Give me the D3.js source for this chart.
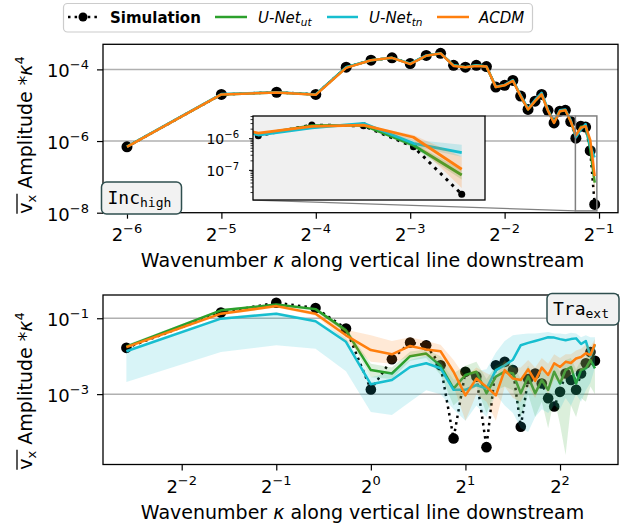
<!DOCTYPE html>
<html><head><meta charset="utf-8">
<script src="https://cdn.jsdelivr.net/npm/d3@7"></script>
<style>
body{margin:0;background:#fff}
svg{display:block}
text{font-family:"DejaVu Sans",sans-serif;fill:#000}
text.mono{font-family:"DejaVu Sans Mono",monospace}
</style>
</head><body>
<svg id="chart" width="626" height="527"></svg>
<script>
// ---------------- DATA ----------------
// Top panel (Inc_high): wavenumber kappa = mode / 64
const topK = [0.015625,0.03125,0.046875,0.0625,0.078125,0.09375,0.109375,0.125,0.140625,0.15625,0.171875,0.1875,0.203125,0.21875,0.234375,0.25,0.265625,0.28125,0.296875,0.3125,0.328125,0.34375,0.359375,0.375,0.390625,0.40625,0.421875,0.4375,0.453125,0.46875,0.484375];
const topSim  = [6.9e-7,2.0e-5,2.3e-5,2.0e-5,1.15e-4,1.8e-4,2.1e-4,1.45e-4,2.45e-4,2.8e-4,1.3e-4,1.15e-4,1.3e-4,1.2e-4,3.2e-5,3.6e-5,4.9e-5,1.8e-5,7.6e-6,1.3e-5,2.0e-5,7.2e-6,3.2e-6,6.8e-6,7.2e-6,3.5e-6,1.2e-6,2.6e-6,2.45e-6,5.4e-7,1.7e-8];
const topUt   = [7.0e-7,2.0e-5,2.25e-5,2.0e-5,1.15e-4,1.8e-4,2.1e-4,1.45e-4,2.4e-4,2.8e-4,1.3e-4,1.15e-4,1.3e-4,1.2e-4,3.2e-5,3.6e-5,4.9e-5,1.8e-5,7.6e-6,1.3e-5,2.0e-5,7.2e-6,3.3e-6,6.8e-6,7.2e-6,3.6e-6,1.32e-6,2.5e-6,2.57e-6,6.0e-7,6.9e-8];
const topTn   = [7.0e-7,2.05e-5,2.3e-5,2.0e-5,1.15e-4,1.8e-4,2.1e-4,1.45e-4,2.45e-4,2.8e-4,1.3e-4,1.15e-4,1.3e-4,1.2e-4,3.3e-5,3.7e-5,5.0e-5,1.9e-5,8.0e-6,1.4e-5,2.2e-5,7.5e-6,3.4e-6,7.2e-6,7.6e-6,3.8e-6,1.26e-6,2.1e-6,2.95e-6,6.9e-7,3.5e-7];
const topAcdm = [6.9e-7,2.0e-5,2.25e-5,1.95e-5,1.1e-4,1.8e-4,2.1e-4,1.4e-4,2.4e-4,2.8e-4,1.25e-4,1.15e-4,1.25e-4,1.2e-4,3.2e-5,3.6e-5,4.8e-5,1.8e-5,7.6e-6,1.3e-5,2.0e-5,7.0e-6,3.2e-6,6.8e-6,7.2e-6,3.5e-6,1.45e-6,2.35e-6,2.6e-6,1.07e-6,1.05e-7];
// uncertainty bands in the top panel (only visible at the highest wavenumbers)
const topBandK   = [0.421875,0.4375,0.453125,0.46875,0.484375];
const topUtLo    = [1.25e-6,2.4e-6,2.45e-6,5.0e-7,5.0e-8];
const topUtHi    = [1.4e-6,2.6e-6,2.7e-6,7.0e-7,1.0e-7];
const topTnLo    = [1.2e-6,2.0e-6,2.8e-6,5.6e-7,2.6e-7];
const topTnHi    = [1.32e-6,2.2e-6,3.1e-6,8.9e-7,6.2e-7];
const topAcdmLo  = [1.38e-6,2.25e-6,2.5e-6,8.0e-7,2.7e-8];
const topAcdmHi  = [1.52e-6,2.45e-6,2.7e-6,1.26e-6,2.6e-7];

// Bottom panel (Tra_ext): wavenumber kappa = mode / 6
const botK = [0.1667,0.3333,0.5,0.6667,0.8333,1,1.1667,1.3333,1.5,1.6667,1.8333,2,2.1667,2.3333,2.5,2.6667,2.8333,3,3.1667,3.3333,3.5,3.6667,3.8333,4,4.1667,4.3333,4.5,4.6667,4.8333,5,5.1667];
const botSim  = [0.0166,0.141,0.257,0.186,0.0537,1.32e-3,8.3e-3,0.0229,0.0195,5.75e-3,6.8e-5,3.9e-3,2.9e-3,4.0e-5,5.75e-3,7.1e-3,4.3e-3,1.38e-4,2.5e-3,3.5e-3,1.9e-3,7.8e-4,4.7e-4,1.15e-3,3.5e-3,2.35e-3,1.3e-3,3.5e-3,6.5e-3,0.0129,7.6e-3];
const botUt   = [0.0178,0.162,0.229,0.174,0.0479,4.3e-3,3.5e-3,0.01,0.0117,5.6e-3,1.4e-3,3.2e-3,3.9e-3,1.05e-3,2.9e-3,3.9e-3,3.5e-3,1.05e-3,2.9e-3,1.05e-3,2.35e-3,1.3e-3,3.9e-3,1.9e-3,4.3e-3,5.2e-3,1.9e-3,4.3e-3,4.8e-3,7.9e-3,4.8e-3];
const botTn   = [0.0135,0.0977,0.132,0.0832,0.024,1.82e-3,2.35e-3,5.2e-3,6.5e-3,4.8e-3,1.3e-3,1.3e-3,1.74e-3,1.4e-3,4.3e-3,5.75e-3,8.1e-3,0.0195,0.0224,0.0251,0.0282,0.0316,0.0309,0.0282,0.0263,0.0282,0.0295,0.0209,0.0251,0.01,0.02];
const botAcdm = [0.0174,0.132,0.209,0.132,0.0355,0.0145,0.0112,0.0186,0.0151,0.0135,3.9e-3,9.3e-4,2.57e-3,1.55e-3,9.3e-4,4.3e-3,2.57e-3,2.35e-3,4.5e-3,2.24e-3,5.0e-3,3.2e-3,6.5e-3,5.2e-3,7.1e-3,6.6e-3,8.7e-3,9.5e-3,0.012,0.0107,0.0209];
const botUtLo   = [0.0158,0.148,0.209,0.158,0.0398,2.8e-3,2.5e-3,7.6e-3,8.9e-3,3.2e-3,5.0e-4,1.0e-3,1.58e-3,3.2e-4,1.26e-3,1.58e-3,1.26e-3,2.5e-4,1.0e-3,2.5e-4,6.3e-4,1.26e-4,7.9e-4,1.58e-4,2.5e-5,5.0e-4,2.5e-4,7.9e-4,6.3e-4,1.58e-3,1.0e-3];
const botUtHi   = [0.02,0.174,0.245,0.191,0.0562,6.3e-3,5.0e-3,0.0132,0.0151,0.01,3.55e-3,5.6e-3,7.1e-3,2.5e-3,5.6e-3,7.1e-3,6.3e-3,2.5e-3,5.6e-3,2.5e-3,5.0e-3,2.8e-3,7.1e-3,4.0e-3,7.9e-3,8.9e-3,4.5e-3,7.9e-3,8.9e-3,0.0158,0.0126];
const botTnLo   = [2.1e-3,0.0129,0.0195,0.0158,4.0e-3,3.4e-4,2.8e-4,6.3e-4,1.26e-3,1.0e-3,4.0e-4,2.0e-4,5.0e-4,2.5e-4,1.0e-3,5.0e-4,3.2e-4,1.26e-4,1.0e-4,2.5e-4,4.0e-4,3.2e-4,5.0e-4,4.0e-4,7.9e-4,5.0e-4,1.0e-3,6.3e-4,1.26e-3,2.0e-3,5.0e-3];
const botTnHi   = [0.0151,0.107,0.145,0.0933,0.0302,2.8e-3,3.8e-3,7.9e-3,0.0105,7.6e-3,2.4e-3,2.8e-3,4.0e-3,4.5e-3,0.0126,0.0251,0.0355,0.038,0.0398,0.0398,0.0417,0.0437,0.0398,0.0398,0.038,0.0417,0.0398,0.0316,0.0355,0.0316,0.0316];
const botAcdmLo = [0.0158,0.12,0.191,0.117,0.0251,7.1e-3,6.3e-3,0.01,0.01,6.3e-3,1.58e-3,2.0e-4,1.0e-3,6.3e-4,2.0e-4,1.58e-3,7.9e-4,6.3e-4,1.58e-3,7.9e-4,2.0e-3,1.0e-3,2.5e-3,2.0e-3,2.5e-3,3.2e-3,4.0e-3,4.0e-3,5.0e-3,5.0e-3,0.0126];
const botAcdmHi = [0.0191,0.145,0.229,0.148,0.0501,0.0355,0.0251,0.0316,0.0251,0.02,7.9e-3,2.8e-3,5.0e-3,3.55e-3,2.8e-3,7.9e-3,5.0e-3,5.0e-3,7.9e-3,5.0e-3,8.9e-3,6.3e-3,0.0112,8.9e-3,0.0112,0.0112,0.0141,0.0158,0.02,0.0178,0.0282];

// ticks and labels
const topXTickExp = [-6,-5,-4,-3,-2,-1];
const topYTickExp = [-8,-6,-4];
const insetYTickExp = [-7,-6];
const botXTickExp = [-2,-1,0,1,2];
const botYTickExp = [-3,-1];
const legendNames = ["Simulation","U-Net","U-Net","ACDM"];
const legendSubs  = ["","ut","tn",""];
const topTag = ["Inc","high"];
const botTag = ["Tra","ext"];

// ---------------- STYLE ----------------
const COL = {ut:"#2ca02c", tn:"#17becf", acdm:"#ff7f0e"};
const svg = d3.select("#chart");
const MINUS = "\u2212";

function zip(k, v){ return k.map((kk,i)=>({k:kk, v:v[i]})); }
function zipBand(k, lo, hi){ return k.map((kk,i)=>({k:kk, lo:lo[i], hi:hi[i]})); }

function supText(sel, base, exp, baseSize, supSize, supDy){
  sel.append("tspan").attr("font-size", baseSize).text(base);
  sel.append("tspan").attr("font-size", supSize).attr("dy", -supDy).text(String(exp).replace("-", MINUS));
}

function drawPanel(p){
  const {x, y, box, id} = p;
  svg.append("clipPath").attr("id", id+"clip").append("rect")
    .attr("x", box.x0).attr("y", box.y0).attr("width", box.x1-box.x0).attr("height", box.y1-box.y0);
  const g = svg.append("g");
  p.gridExp.forEach(e => {
    g.append("line").attr("x1", box.x0).attr("x2", box.x1)
      .attr("y1", y(Math.pow(10,e))).attr("y2", y(Math.pow(10,e)))
      .attr("stroke", "#b0b0b0").attr("stroke-width", 1.5);
  });
  const plot = g.append("g").attr("clip-path", `url(#${id}clip)`);
  drawSeries(plot, x, y, p, p.simR, p.simW);
  p.extra && p.extra(g);
  g.append("rect").attr("x", box.x0).attr("y", box.y0).attr("width", box.x1-box.x0).attr("height", box.y1-box.y0)
    .attr("fill","none").attr("stroke","#000").attr("stroke-width",1.3);
  const xa = g.append("g").attr("transform", `translate(0,${box.y1})`)
    .call(d3.axisBottom(x).tickValues(p.xTickExp.map(e=>Math.pow(2,e))).tickSize(6).tickSizeOuter(0).tickFormat(()=>""));
  xa.select(".domain").remove();
  xa.selectAll(".tick line").attr("stroke","#000").attr("stroke-width",1.2);
  p.xTickExp.forEach(e => {
    const t = g.append("text").attr("x", x(Math.pow(2,e))).attr("y", box.y1+28.5).attr("text-anchor","middle");
    supText(t, "2", e, 18, 13, 8);
  });
  const ya = g.append("g").attr("transform", `translate(${box.x0},0)`)
    .call(d3.axisLeft(y).tickValues(p.yTickExp.map(e=>Math.pow(10,e))).tickSize(6).tickSizeOuter(0).tickFormat(()=>""));
  ya.select(".domain").remove();
  ya.selectAll(".tick line").attr("stroke","#000").attr("stroke-width",1.2);
  p.yTickExp.forEach(e => {
    const t = g.append("text").attr("x", box.x0-14).attr("y", y(Math.pow(10,e))+8).attr("text-anchor","end");
    supText(t, "10", e, 18, 13, 8);
  });
  const xl = g.append("text").attr("x", (box.x0+box.x1)/2 + 2).attr("y", box.y1+54).attr("text-anchor","middle").attr("font-size",19);
  xl.append("tspan").text("Wavenumber ");
  xl.append("tspan").attr("font-style","italic").text("κ");
  xl.append("tspan").text(" along vertical line downstream");
  const yg = g.append("g").attr("transform", `translate(32,${p.yLabelCenter}) rotate(-90)`);
  const yt = yg.append("text").attr("x",0).attr("y",0).attr("text-anchor","middle").attr("font-size",19);
  yt.append("tspan").text("v");
  yt.append("tspan").attr("font-size",13).attr("dy",4).text("x");
  yt.append("tspan").attr("dy",-4).text(" Amplitude *");
  yt.append("tspan").attr("font-style","italic").text("κ");
  yt.append("tspan").attr("font-size",13).attr("dy",-8).text("4");
  const n = yt.node();
  const xs = n.getStartPositionOfChar(0).x, xe = n.getEndPositionOfChar(1).x;
  yg.append("line").attr("x1", xs).attr("x2", xe+1).attr("y1",-15).attr("y2",-15).attr("stroke","#000").attr("stroke-width",1.3);
  const tb = p.tag;
  g.append("rect").attr("x", tb.x).attr("y", tb.y).attr("width", tb.w).attr("height", tb.h).attr("rx",5)
    .attr("fill","#f2f2f2").attr("stroke","#2f4f4f").attr("stroke-width",1.5);
  const tt = g.append("text").attr("class","mono").attr("x", tb.x+6).attr("y", tb.y+tb.h-10);
  tt.append("tspan").attr("font-size",18).text(tb.text[0]);
  tt.append("tspan").attr("font-size",13).attr("dy",3).text(tb.text[1]);
}

function drawSeries(plot, x, y, p, simR, simW){
  const line = d3.line().x(d=>x(d.k)).y(d=>y(d.v));
  const area = d3.area().x(d=>x(d.k)).y0(d=>y(d.lo)).y1(d=>y(d.hi));
  plot.append("path").datum(zip(p.k, p.sim)).attr("d", line).attr("fill","none")
    .attr("stroke","#000").attr("stroke-width",simW).attr("stroke-dasharray", `${simW},${simW*1.65}`);
  plot.selectAll(null).data(zip(p.k, p.sim)).enter().append("circle")
    .attr("cx", d=>x(d.k)).attr("cy", d=>y(d.v)).attr("r", simR).attr("fill","#000");
  p.models.forEach(m => {
    plot.append("path").datum(zip(p.k, m.v)).attr("d", line).attr("fill","none")
      .attr("stroke", m.c).attr("stroke-width", p.lineW).attr("stroke-linejoin","round");
    plot.append("path").datum(zipBand(m.bk, m.lo, m.hi)).attr("d", area)
      .attr("fill", m.c).attr("fill-opacity", m.a).attr("stroke","none");
  });
}

// ---------------- TOP PANEL ----------------
const topBox = {x0:103, x1:618, y0:44.3, y1:212.7};
const topX = d3.scaleLog().base(2).domain([Math.pow(2,-6.254), Math.pow(2,-0.799)]).range([topBox.x0, topBox.x1]);
const topY = d3.scaleLog().domain([1e-8, Math.pow(10,-3.30)]).range([topBox.y1, topBox.y0]);
const topModels = [
  {v:topUt, c:COL.ut, bk:topBandK, lo:topUtLo, hi:topUtHi, a:0.2},
  {v:topTn, c:COL.tn, bk:topBandK, lo:topTnLo, hi:topTnHi, a:0.2},
  {v:topAcdm, c:COL.acdm, bk:topBandK, lo:topAcdmLo, hi:topAcdmHi, a:0.2}
];
const inBox = {x0:253, x1:485, y0:116, y1:200};
const inX = d3.scaleLog().base(2).domain([Math.pow(2,-1.2503), Math.pow(2,-1.023)]).range([inBox.x0, inBox.x1]);
const inY = d3.scaleLog().domain([Math.pow(10,-7.95), Math.pow(10,-5.30)]).range([inBox.y1, inBox.y0]);

drawPanel({
  id:"top", x:topX, y:topY, box:topBox, k:topK, sim:topSim, models:topModels,
  simR:5.5, simW:2.5, lineW:2.5,
  gridExp:[-4,-6], xTickExp:topXTickExp, yTickExp:topYTickExp, yLabelCenter:135,
  tag:{x:101.5, y:182, w:80, h:32, text:topTag},
  extra: g => {
    const rx0 = topX(inX.domain()[0]), rx1 = topX(inX.domain()[1]);
    const ry0 = topY(inY.domain()[1]), ry1 = topY(inY.domain()[0]);
    g.append("rect").attr("x", rx0).attr("y", ry0).attr("width", rx1-rx0).attr("height", ry1-ry0)
      .attr("fill","none").attr("stroke","#808080").attr("stroke-width",1.5);
    g.append("line").attr("x1", inBox.x1).attr("y1", inBox.y0).attr("x2", rx0).attr("y2", ry0).attr("stroke","#808080").attr("stroke-width",1.3);
    g.append("line").attr("x1", inBox.x0).attr("y1", inBox.y1).attr("x2", rx0).attr("y2", ry1).attr("stroke","#808080").attr("stroke-width",1.3);
    svg.append("clipPath").attr("id","inclip").append("rect")
      .attr("x", inBox.x0).attr("y", inBox.y0).attr("width", inBox.x1-inBox.x0).attr("height", inBox.y1-inBox.y0);
    const ig = g.append("g");
    ig.append("rect").attr("x", inBox.x0).attr("y", inBox.y0).attr("width", inBox.x1-inBox.x0).attr("height", inBox.y1-inBox.y0)
      .attr("fill","#f0f0f0");
    const ip = ig.append("g").attr("clip-path","url(#inclip)");
    drawSeries(ip, inX, inY, {k:topK, sim:topSim, models:topModels, lineW:2.8}, 3.5, 3);
    ig.append("rect").attr("x", inBox.x0).attr("y", inBox.y0).attr("width", inBox.x1-inBox.x0).attr("height", inBox.y1-inBox.y0)
      .attr("fill","none").attr("stroke","#000").attr("stroke-width",1.3);
    const minor = [];
    [-8,-7,-6].forEach(e => [2,3,4,5,6,7,8,9].forEach(m => { const v = m*Math.pow(10,e); if (v > inY.domain()[0] && v < inY.domain()[1]) minor.push(v); }));
    const ma = ig.append("g").attr("transform", `translate(${inBox.x0},0)`)
      .call(d3.axisLeft(inY).tickValues(minor).tickSize(2.5).tickSizeOuter(0).tickFormat(()=>""));
    ma.select(".domain").remove();
    ma.selectAll(".tick line").attr("stroke","#000").attr("stroke-width",0.8);
    const Ma = ig.append("g").attr("transform", `translate(${inBox.x0},0)`)
      .call(d3.axisLeft(inY).tickValues(insetYTickExp.map(e=>Math.pow(10,e))).tickSize(4).tickSizeOuter(0).tickFormat(()=>""));
    Ma.select(".domain").remove();
    Ma.selectAll(".tick line").attr("stroke","#000").attr("stroke-width",1);
    insetYTickExp.forEach(e => {
      const t = ig.append("text").attr("x", inBox.x0-14).attr("y", inY(Math.pow(10,e))+6).attr("text-anchor","end");
      supText(t, "10", e, 14, 10, 6);
    });
  }
});

// ---------------- BOTTOM PANEL ----------------
const botBox = {x0:103, x1:618, y0:295, y1:464.5};
const botX = d3.scaleLog().base(2).domain([Math.pow(2,-2.832), Math.pow(2,2.613)]).range([botBox.x0, botBox.x1]);
const botY = d3.scaleLog().domain([Math.pow(10,-4.855), Math.pow(10,-0.387)]).range([botBox.y1, botBox.y0]);
drawPanel({
  id:"bot", x:botX, y:botY, box:botBox, k:botK, sim:botSim,
  models:[
    {v:botUt, c:COL.ut, bk:botK, lo:botUtLo, hi:botUtHi, a:0.17},
    {v:botTn, c:COL.tn, bk:botK, lo:botTnLo, hi:botTnHi, a:0.17},
    {v:botAcdm, c:COL.acdm, bk:botK, lo:botAcdmLo, hi:botAcdmHi, a:0.17}
  ],
  simR:5.3, simW:2.5, lineW:2.5,
  gridExp:[-1,-3], xTickExp:botXTickExp, yTickExp:botYTickExp, yLabelCenter:391,
  tag:{x:547, y:293.5, w:72, h:31.5, text:botTag}
});

// ---------------- LEGEND ----------------
const lg = svg.append("g");
lg.append("rect").attr("x",63.5).attr("y",3.5).attr("width",469).attr("height",28.5).attr("rx",4)
  .attr("fill","#fff").attr("fill-opacity",0.9).attr("stroke","#cccccc").attr("stroke-width",1.2);
const legendSamples = [
  {x0:68, x1:98, c:"#000", dotted:true, tx:110},
  {x0:215, x1:247, c:COL.ut, tx:258},
  {x0:327, x1:358, c:COL.tn, tx:369},
  {x0:437, x1:469, c:COL.acdm, tx:479}
];
legendSamples.forEach((s,i) => {
  const l = lg.append("line").attr("x1",s.x0).attr("x2",s.x1).attr("y1",17).attr("y2",17).attr("stroke",s.c).attr("stroke-width",2.5);
  if (s.dotted){
    l.attr("stroke-dasharray","2.5,4.1");
    lg.append("circle").attr("cx",(s.x0+s.x1)/2).attr("cy",17).attr("r",4.5).attr("fill","#000");
  }
  const t = lg.append("text").attr("x",s.tx).attr("y",22.5).attr("font-size",15);
  if (i===0) t.attr("font-weight","bold").text(legendNames[i]);
  else {
    t.append("tspan").attr("font-style","italic").text(legendNames[i]);
    if (legendSubs[i]) t.append("tspan").attr("font-style","italic").attr("font-size",10.5).attr("dy",3).text(legendSubs[i]);
  }
});
</script>
</body></html>
